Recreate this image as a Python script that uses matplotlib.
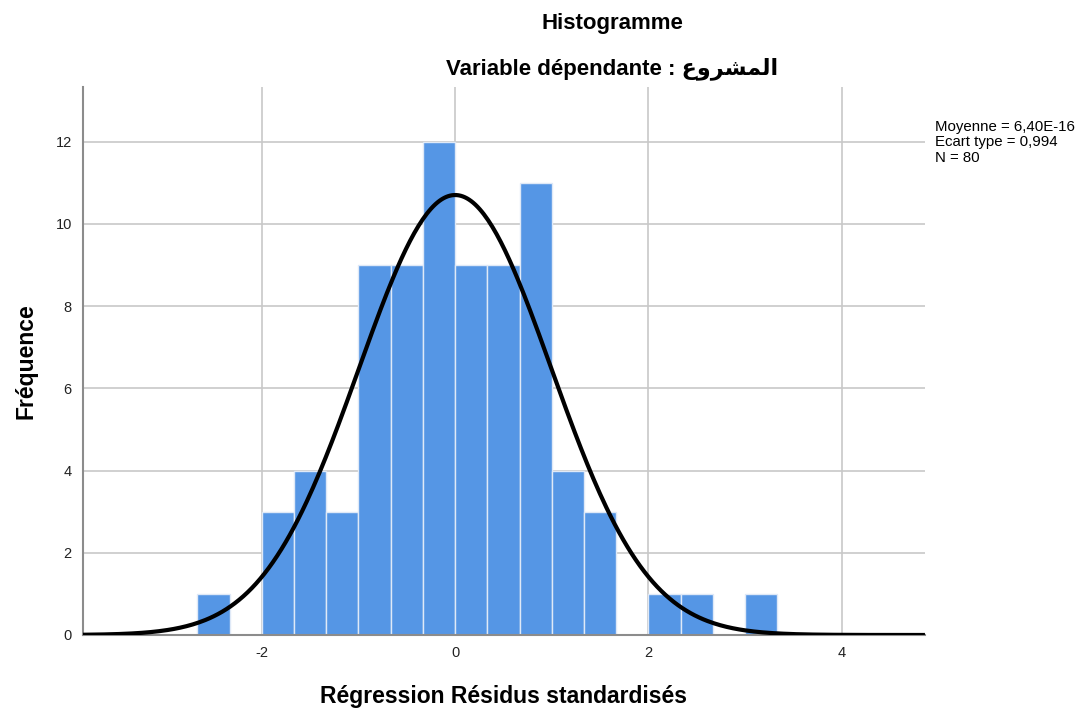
import numpy as np
import matplotlib.pyplot as plt

plt.rcParams['axes.unicode_minus'] = False

# histogram bins (width 1/3) and counts
bin_edges = np.arange(-8, 11) / 3.0          # -2.667 .. 3.333
counts = [1, 0, 3, 4, 3, 9, 9, 12, 9, 9, 11, 4, 3, 0, 1, 1, 0, 1]

mean = 6.40e-16
std = 0.994
n = 80

x_ticks = [-2, 0, 2, 4]
y_ticks = [0, 2, 4, 6, 8, 10, 12]

fig = plt.figure(figsize=(10.86, 7.11), dpi=100)
ax = fig.add_axes([0.0764, 0.1069, 0.7753, 0.7707])

lat = ['Liberation Sans', 'DejaVu Sans']

ax.hist(bin_edges[:-1], bins=bin_edges, weights=counts, color='#5596e5',
        edgecolor='#dfe9f7', linewidth=1.0, zorder=2)

xs = np.linspace(-3.85, 4.86, 400)
binw = bin_edges[1] - bin_edges[0]
ys = n * binw * np.exp(-0.5 * ((xs - mean) / std) ** 2) / (std * np.sqrt(2 * np.pi))
ax.plot(xs, ys, color='black', linewidth=3.0, zorder=3, solid_capstyle='butt')

ax.set_xlim(-3.85, 4.86)
ax.set_ylim(0, 13.33)
ax.set_xticks(x_ticks)
ax.set_yticks(y_ticks)
ax.grid(True, color='#c8c8c8', linewidth=1.2, zorder=0)
ax.set_axisbelow(True)
for s in ['top', 'right']:
    ax.spines[s].set_visible(False)
for s in ['left', 'bottom']:
    ax.spines[s].set_color('#8c8c8c')
    ax.spines[s].set_linewidth(1.5)
ax.tick_params(length=0, pad=8, labelsize=10.5, labelcolor='#222222')
for lab in ax.get_xticklabels() + ax.get_yticklabels():
    lab.set_family(lat)

ax.set_xlabel('Régression Résidus standardisés', family=lat, fontsize=16.5,
              fontweight='bold', labelpad=18)
ax.set_ylabel('Fréquence', family=lat, fontsize=16.5, fontweight='bold', labelpad=13)

fig.text(0.5635, 0.967, 'Histogramme', family=lat, fontsize=16,
         fontweight='bold', ha='center', va='center')
# arabic word pre-shaped (presentation forms, visual order)
arabic = '\ufec9\ufeed\ufeae\ufeb8\ufee4\ufedf\ufe8d'
fig.text(0.5635, 0.903, 'Variable dépendante : ' + arabic, family=lat,
         fontsize=16, fontweight='bold', ha='center', va='center')

fig.text(0.861, 0.831, 'Moyenne = 6,40E-16\nEcart type = 0,994\nN = 80',
         family=lat, fontsize=10.8, ha='left', va='top', linespacing=1.12)

fig.savefig('out.png', dpi=100, facecolor='white')
